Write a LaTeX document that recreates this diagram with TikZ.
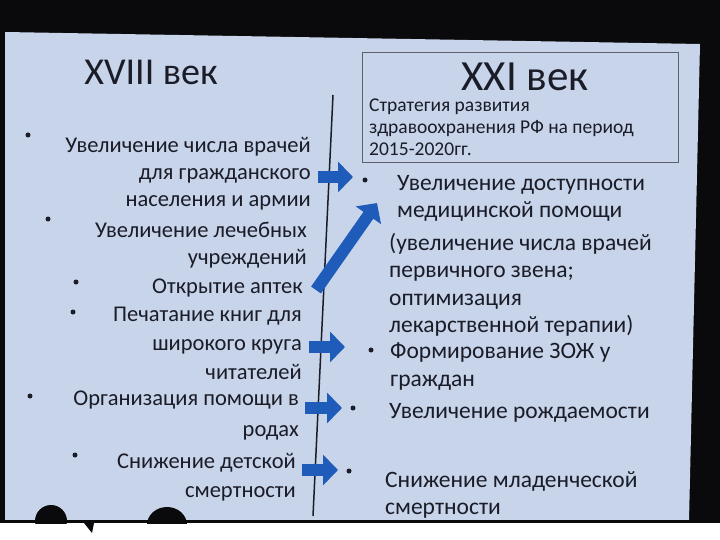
\documentclass[tikz,border=0pt]{standalone}
\usepackage{fontspec}
\setmainfont{Carlito}
\usetikzlibrary{arrows.meta,positioning}
\definecolor{slide}{HTML}{C8D4EA}
\definecolor{ink}{HTML}{1A1C28}
\definecolor{arrowblue}{HTML}{1F5CBA}
\definecolor{room}{HTML}{0A090B}
\tikzset{
  item/.style={inner sep=0pt, text=ink, font=\fontsize{22.5}{27}\selectfont},
  olditem/.style={item, align=right, anchor=north east},
  newitem/.style={item, align=left, anchor=north west, font=\fontsize{23.5}{27.5}\selectfont},
  dotmark/.style={circle, fill=ink, inner sep=0pt, minimum size=5pt},
  heading/.style={inner sep=0pt, text=ink, text depth=0pt, font=\fontsize{38}{38}\selectfont},
  bigarrow/.style={draw=arrowblue, line width=12pt,
    -{Triangle[width=30pt,length=15pt]}},
  x=1pt,y=-1pt}

\begin{document}
\begin{tikzpicture}
        \useasboundingbox (0,0) rectangle (720,540);
        \fill[white] (0,0) rectangle (720,540);
        \fill[room] (0,0) rectangle (720,523);
        \fill[slide] (5,32) -- (700,44) -- (689,521) -- (5,521) -- cycle;

        % headings
        \node[heading] (old) at (151,72) {XVIII век};
        \node[heading, font=\fontsize{43}{43}\selectfont] (new) at (525,77) {XXI век};
        \draw[ink!70, thin] (362,52) rectangle (678,162);
        \node[item, font=\fontsize{19.5}{22}\selectfont, align=left, anchor=north west]
          (plan) at (369,99) {Стратегия развития\\здравоохранения РФ на период\\2015-2020гг.};

        % time line
        \coordinate (top) at (333,95);
        \coordinate (bottom) at (313,516);
        \draw[ink, line width=1.5pt] (top) -- (bottom);

        % XVIII century
        \node[dotmark] (d1) at (28,135) {};
        \node[dotmark] (d2) at (48,219) {};
        \node[dotmark] (d3) at (76,282) {};
        \node[dotmark] (d4) at (73,312) {};
        \node[dotmark] (d5) at (30,396) {};
        \node[dotmark] (d6) at (75,455) {};
        \node[olditem] (old1) at (311,137) {Увеличение числа врачей\\для гражданского\\населения и армии};
        \node[olditem] (old2) at (307,222) {Увеличение лечебных\\учреждений};
        \node[olditem] (old3) at (303,279) {Открытие аптек};
        \node[olditem, font=\fontsize{22.5}{29}\selectfont] (old4) at (302,307) {Печатание книг для\\широкого круга\\читателей};
        \node[olditem, font=\fontsize{22.5}{31}\selectfont] (old5) at (299,391) {Организация помощи в\\родах};
        \node[olditem, font=\fontsize{22.5}{29}\selectfont] (old6) at (296,453) {Снижение детской\\смертности};

        % XXI century
        \node[dotmark] (e1) at (365,180) {};
        \node[dotmark] (e2) at (371,350) {};
        \node[dotmark] (e3) at (353,408) {};
        \node[dotmark] (e4) at (349,471) {};
        \node[newitem] (new1) at (397,175) {Увеличение доступности\\медицинской помощи};
        \node[newitem] (new1b) at (389,233) {(увеличение числа врачей\\первичного звена;\\оптимизация\\лекарственной терапии)};
        \node[newitem] (new2) at (390,343) {Формирование ЗОЖ у\\граждан};
        \node[newitem] (new3) at (389,403) {Увеличение рождаемости};
        \node[newitem] (new4) at (385,471) {Снижение младенческой\\смертности};

        % arrows
        \coordinate (a1s) at (318,177); \coordinate (a1e) at (353,177);
        \coordinate (a2s) at (316,290); \coordinate (a2e) at (377,203);
        \coordinate (a3s) at (309,347); \coordinate (a3e) at (345,347);
        \coordinate (a4s) at (305,408); \coordinate (a4e) at (342,408);
        \coordinate (a5s) at (302,470); \coordinate (a5e) at (338,470);
        \draw[bigarrow] (a1s) -- (a1e);
        \draw[bigarrow] (a2s) -- (a2e);
        \draw[bigarrow] (a3s) -- (a3e);
        \draw[bigarrow] (a4s) -- (a4e);
        \draw[bigarrow] (a5s) -- (a5e);

        % audience
        \begin{scope}
          \clip (0,500) rectangle (720,523);
          \fill[room] (0,520) rectangle (720,523);
          \fill[room] (51,521) ellipse[x radius=16, y radius=16];
          \fill[room] (167,525) ellipse[x radius=20, y radius=18];
        \end{scope}
        \fill[room] (84,523) -- (94,523) -- (92,533) -- cycle;
    \end{tikzpicture}
\end{document}
